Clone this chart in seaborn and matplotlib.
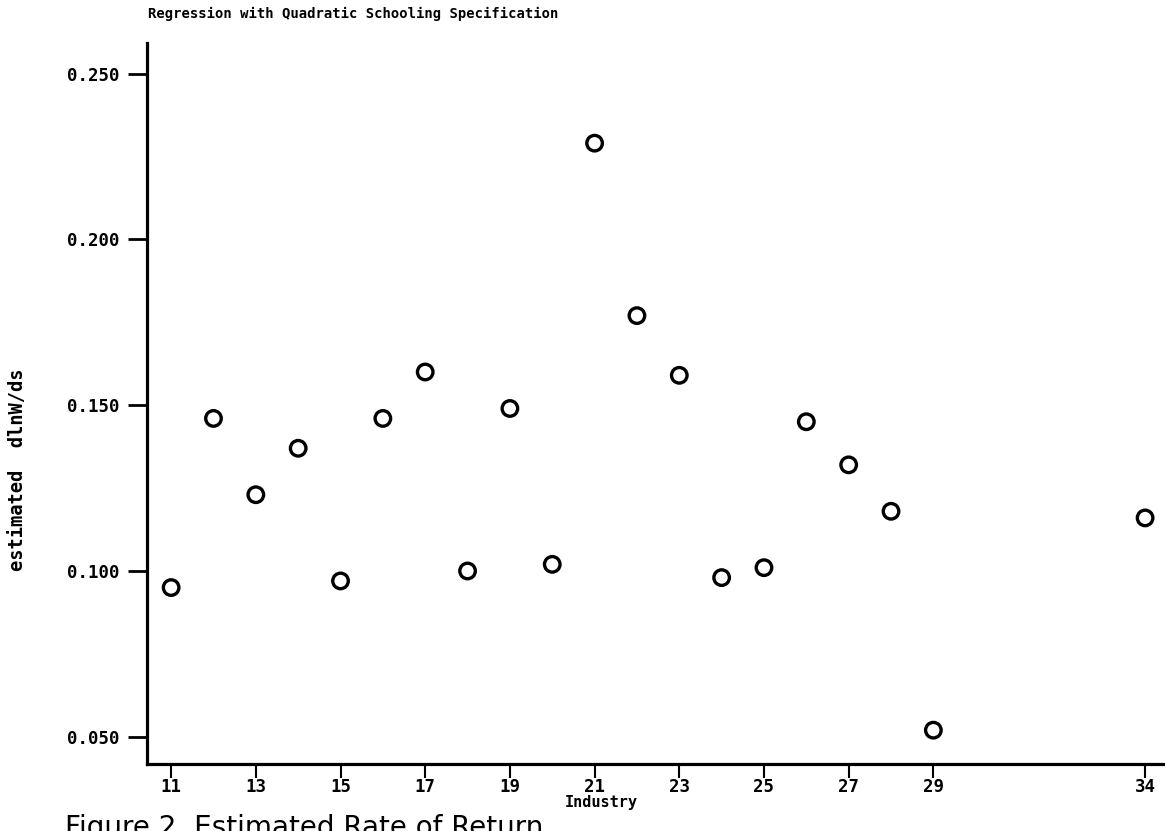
import matplotlib
matplotlib.use("Agg")
import matplotlib.pyplot as plt
import seaborn as sns
import pandas as pd

# Estimated return to schooling by industry code
industry = [11, 12, 13, 14, 15, 16, 17, 18, 19, 20,
            21, 22, 23, 24, 25, 26, 27, 28, 29, 34]
dlnw_ds = [0.095, 0.146, 0.123, 0.137, 0.097, 0.146, 0.160, 0.100, 0.149, 0.102,
           0.229, 0.177, 0.159, 0.098, 0.101, 0.145, 0.132, 0.118, 0.052, 0.116]

x_ticks = [11, 13, 15, 17, 19, 21, 23, 25, 27, 29, 34]
y_ticks = [0.050, 0.100, 0.150, 0.200, 0.250]
y_tick_labels = ["0.050", "0.100", "0.150", "0.200", "0.250"]

df = pd.DataFrame({"Industry": industry, "estimated dlnW/ds": dlnw_ds})

sns.set_theme(style="white")
plt.rcParams["font.family"] = ["DejaVu Sans Mono", "DejaVu Sans"]
plt.rcParams["font.weight"] = "bold"
plt.rcParams["text.color"] = "black"
plt.rcParams["axes.labelcolor"] = "black"

W, H = 1165, 831
fig = plt.figure(figsize=(W / 100, H / 100), dpi=100)
left_px, right_px, bottom_px, top_px = 147, 1165, 764, 43
ax = fig.add_axes([left_px / W, 1 - bottom_px / H,
                   (right_px - left_px) / W, (bottom_px - top_px) / H])

sns.scatterplot(data=df, x="Industry", y="estimated dlnW/ds", ax=ax,
                marker="o", s=125, facecolor="none", edgecolor="black",
                linewidth=2.4, legend=False, clip_on=False, zorder=3)

ax.set_xlim(10.43, 34.47)
ax.set_ylim(0.0418, 0.2592)

ax.set_xticks(x_ticks)
ax.set_xticklabels([str(t) for t in x_ticks], fontsize=12.5, fontweight="bold")
ax.set_yticks(y_ticks)
ax.set_yticklabels(y_tick_labels, fontsize=12.5, fontweight="bold")

for side in ("top", "right"):
    ax.spines[side].set_visible(False)
for side in ("left", "bottom"):
    ax.spines[side].set_color("black")
    ax.spines[side].set_linewidth(2.3)

ax.tick_params(axis="y", direction="out", length=14, width=2.0, pad=6,
               colors="black", left=True)
ax.tick_params(axis="x", direction="out", length=10, width=1.5, pad=0,
               colors="black", bottom=True)

ax.set_xlabel("Industry", fontsize=11, fontweight="bold", color="black")
ax.xaxis.set_label_coords(0.446, -0.043)
ax.set_ylabel("estimated  dlnW/ds", fontsize=13.5, fontweight="bold",
              color="black")
ax.yaxis.set_label_coords(-0.118, 0.408)

fig.text(148 / W, 1 - 14 / H, "Regression with Quadratic Schooling Specification",
         fontsize=10, fontweight="bold", color="black", ha="left", va="center")

fig.text(65 / W, 1 - 814 / H, "Figure 2  Estimated Rate of Return",
         fontsize=20, fontweight="normal", family="DejaVu Sans",
         color="black", ha="left", va="top")

fig.savefig("out.png", dpi=100, facecolor="white")
